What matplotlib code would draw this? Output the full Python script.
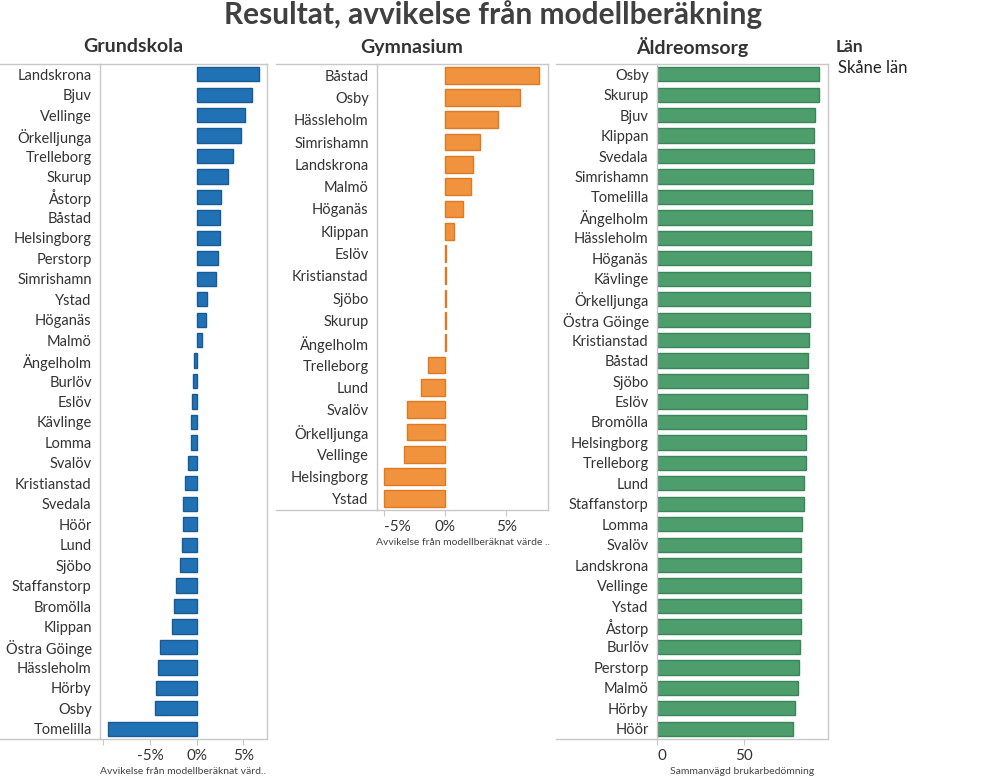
import matplotlib
matplotlib.use("Agg")
import matplotlib.pyplot as plt
from matplotlib.lines import Line2D

plt.rcParams['font.family'] = ['Lato', 'DejaVu Sans']

# --- data ---
grund_kommuner = ["Landskrona", "Bjuv", "Vellinge", "Örkelljunga", "Trelleborg", "Skurup",
                  "Åstorp", "Båstad", "Helsingborg", "Perstorp", "Simrishamn", "Ystad",
                  "Höganäs", "Malmö", "Ängelholm", "Burlöv", "Eslöv", "Kävlinge", "Lomma",
                  "Svalöv", "Kristianstad", "Svedala", "Höör", "Lund", "Sjöbo", "Staffanstorp",
                  "Bromölla", "Klippan", "Östra Göinge", "Hässleholm", "Hörby", "Osby", "Tomelilla"]
grund_varden = [6.64, 5.89, 5.14, 4.72, 3.86, 3.32, 2.57, 2.55, 2.47, 2.25, 2.04, 1.07,
                0.96, 0.54, -0.29, -0.40, -0.50, -0.61, -0.62, -0.93, -1.25, -1.47, -1.48,
                -1.58, -1.79, -2.22, -2.43, -2.65, -3.90, -4.15, -4.36, -4.47, -9.50]

gym_kommuner = ["Båstad", "Osby", "Hässleholm", "Simrishamn", "Landskrona", "Malmö", "Höganäs",
                "Klippan", "Eslöv", "Kristianstad", "Sjöbo", "Skurup", "Ängelholm",
                "Trelleborg", "Lund", "Svalöv", "Örkelljunga", "Vellinge", "Helsingborg", "Ystad"]
gym_varden = [7.68, 6.12, 4.32, 2.84, 2.27, 2.10, 1.45, 0.71, 0.06, 0.05, 0.05, 0.04, 0.03,
              -1.39, -1.97, -3.11, -3.12, -3.36, -5.00, -5.01]

aldre_kommuner = ["Osby", "Skurup", "Bjuv", "Klippan", "Svedala", "Simrishamn", "Tomelilla",
                  "Ängelholm", "Hässleholm", "Höganäs", "Kävlinge", "Örkelljunga", "Östra Göinge",
                  "Kristianstad", "Båstad", "Sjöbo", "Eslöv", "Bromölla", "Helsingborg",
                  "Trelleborg", "Lund", "Staffanstorp", "Lomma", "Svalöv", "Landskrona",
                  "Vellinge", "Ystad", "Åstorp", "Burlöv", "Perstorp", "Malmö", "Hörby", "Höör"]
aldre_varden = [93.5, 93.4, 91.2, 90.6, 90.5, 90.0, 89.4, 89.3, 88.9, 88.8, 88.3, 88.2, 88.1,
                87.7, 87.1, 87.0, 86.6, 86.0, 85.9, 85.8, 84.8, 84.7, 83.7, 83.1, 83.1,
                83.0, 83.0, 82.9, 82.5, 81.9, 81.4, 79.6, 78.5]

W, H = 984, 784
fig = plt.figure(figsize=(W / 100, H / 100), dpi=100)

GRID = '#c8c8c8'
TXT = '#333333'


def px_axes(x0, x1, y0, y1):
    # pixel box (from top-left) -> figure axes
    return fig.add_axes([x0 / W, 1 - y1 / H, (x1 - x0) / W, (y1 - y0) / H])


def hline(x0, x1, y):
    fig.add_artist(Line2D([x0 / W, x1 / W], [1 - y / H, 1 - y / H],
                          transform=fig.transFigure, color=GRID, lw=1))


def panel(box, label_left, names, values, color, edge, height, xlim, ticks, ticklabels,
          header, xlabel):
    x0, x1, y0, y1 = box
    ax = px_axes(x0, x1, y0, y1)
    y = list(range(len(names)))
    ax.barh(y, values, height=height, color=color, edgecolor=edge, linewidth=1)
    ax.set_ylim(len(names) - 0.5, -0.5)
    ax.set_xlim(*xlim)
    ax.set_yticks(y)
    ax.set_yticklabels(names, fontsize=10.5, color=TXT)
    ax.tick_params(axis='y', length=0, pad=6)
    ax.set_xticks(ticks)
    ax.set_xticklabels(ticklabels, fontsize=11, color=TXT)
    ax.tick_params(axis='x', length=4, color=GRID, pad=3)
    for s in ax.spines.values():
        s.set_color(GRID)
        s.set_linewidth(1)
    ax.set_xlabel(xlabel, fontsize=7.5, color='#444444', labelpad=3)
    hline(label_left, x0, y0)
    hline(label_left, x0, y1)
    fig.text((label_left + x1) / 2 / W, 1 - 47 / H, header, fontsize=14, fontweight='bold',
             color=TXT, ha='center', va='center')
    return ax


ax1 = panel((100, 267, 64, 739), 0, grund_kommuner, grund_varden, '#2171b5', '#175a94', 0.7,
            (-10.36, 7.54), [-10, -5, 0, 5], ['', '-5%', '0%', '5%'],
            'Grundskola', 'Avvikelse från modellberäknat värd..')

ax2 = panel((377, 548, 64, 510), 276, gym_kommuner, gym_varden, '#f0923e', '#e07a22', 0.75,
            (-5.6, 8.42), [-5, 0, 5], ['-5%', '0%', '5%'],
            'Gymnasium', 'Avvikelse från modellberäknat värde ..')
ax2.get_xticklabels()[0].set_ha('left')

ax3 = panel((657, 828, 64, 739), 556, aldre_kommuner, aldre_varden, '#4e9d6c', '#3a855a', 0.7,
            (0, 98.7), [0, 50], ['0', '50'],
            'Äldreomsorg', 'Sammanvägd brukarbedömning')
ax3.get_xticklabels()[0].set_ha('left')

fig.text(493 / W, 1 - 15 / H, 'Resultat, avvikelse från modellberäkning', fontsize=21.5,
         fontweight='bold', color='#404040', ha='center', va='center')
fig.text(836 / W, 1 - 47 / H, 'Län', fontsize=12.5, fontweight='bold', color=TXT,
         ha='left', va='center')
fig.text(838 / W, 1 - 68 / H, 'Skåne län', fontsize=12, color='#222222',
         ha='left', va='center')

fig.savefig('out.png', dpi=100)
